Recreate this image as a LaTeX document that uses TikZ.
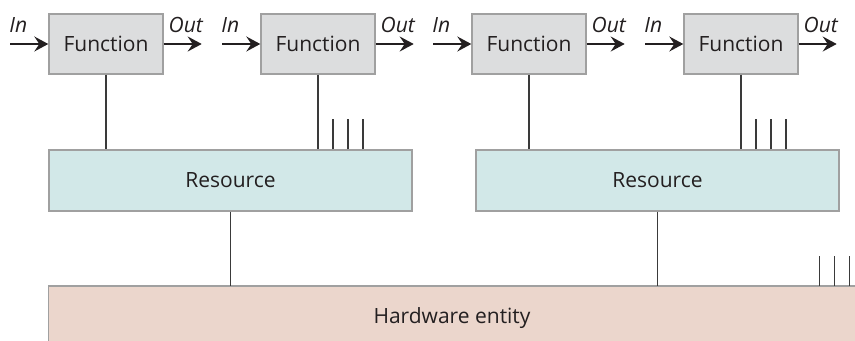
\documentclass[tikz,border=0pt]{standalone}
\usepackage{fontspec}
\setmainfont{Open Sans}
\usetikzlibrary{arrows.meta,calc}
\definecolor{fnfill}{HTML}{DCDDDE}
\definecolor{resfill}{HTML}{D2E8E8}
\definecolor{hwfill}{HTML}{EBD6CC}
\definecolor{boxline}{HTML}{A0A0A0}
\definecolor{conn}{HTML}{3A3A3A}
\definecolor{txt}{HTML}{231F20}
\tikzset{
  fn/.style={draw=boxline, line width=1.4bp, fill=fnfill, minimum width=114bp, minimum height=60bp, inner sep=0pt, text=txt, font=\fontsize{21bp}{25bp}\selectfont},
  res/.style={draw=boxline, line width=1.4bp, fill=resfill, minimum width=363bp, minimum height=61bp, inner sep=0pt, text=txt, font=\fontsize{21bp}{25bp}\selectfont},
  hw/.style={fill=hwfill, minimum width=806bp, minimum height=64bp, inner sep=0pt, text=txt, font=\fontsize{21bp}{25bp}\selectfont},
  hwedge/.style={draw=boxline, line width=1.4bp},
  flow/.style={line width=1.8bp, draw=txt, -{Stealth[length=14bp,width=15bp,inset=5bp]}},
  lbl/.style={font=\itshape\fontsize{21bp}{25bp}\selectfont, text=txt, inner sep=0pt},
  link/.style={line width=1.3bp, draw=conn},
}
\begin{document}
\begin{tikzpicture}[x=1bp,y=-1bp]
\useasboundingbox (0,0) rectangle (855,340);
\clip (0,0) rectangle (855,340);
% hardware
\node[hw] (hw) at (452,318) {Hardware entity\hspace{12bp}};
\draw[hwedge] (hw.north east) -- (hw.north west) -- (hw.south west);
% resources
\node[res] (r1) at (230.5,180.5) {Resource};
\node[res] (r2) at (657.5,180.5) {Resource};
% functions
\foreach \i/\x in {1/106,2/318,3/529,4/741}{
  \node[fn] (f\i) at (\x,44) {Function};
  \coordinate (in\i) at ($(f\i.west)+(-38,0)$);
  \coordinate (out\i) at ($(f\i.east)+(38,0)$);
  \draw[flow] (in\i) -- (f\i.west);
  \draw[flow] (f\i.east) -- (out\i);
  \node[lbl] (lin\i) at ($(f\i.west)+(-30,-19)$) {In};
  \node[lbl] (lout\i) at ($(f\i.east)+(22,-19)$) {Out};
}
% connectors
\draw[link] (f1.south) -- (f1.south |- r1.north);
\draw[link] (f2.south) -- (f2.south |- r1.north);
\draw[link] (f3.south) -- (f3.south |- r2.north);
\draw[link] (f4.south) -- (f4.south |- r2.north);
\draw[link] (r1.south) -- (r1.south |- hw.north);
\draw[link] (r2.south) -- (r2.south |- hw.north);
% ticks
\foreach \d in {15,30,45}{
  \coordinate (ta\d) at ($(f2.south |- r1.north)+(\d,0)$);
  \draw[link] (ta\d) -- ++(0,-30);
  \coordinate (tb\d) at ($(f4.south |- r2.north)+(\d,0)$);
  \draw[link] (tb\d) -- ++(0,-30);
  \coordinate (tc\d) at ($(hw.north west)+(756+\d,0)$);
  \draw[link] (tc\d) -- ++(0,-30);
}
\end{tikzpicture}
\end{document}
